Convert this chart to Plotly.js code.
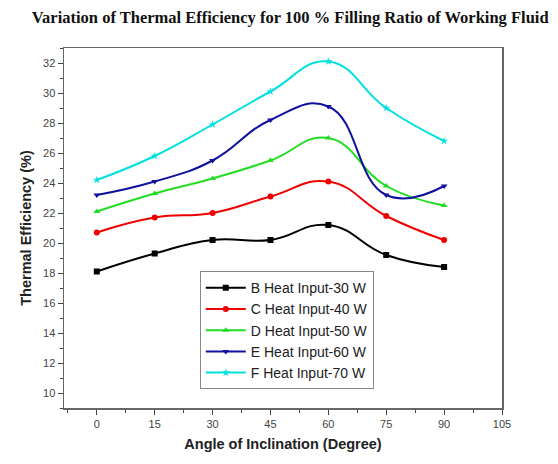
<!DOCTYPE html>
<html>
<head>
<meta charset="utf-8">
<script src="https://cdn.plot.ly/plotly-3.0.1.min.js"></script>
<style>body{margin:0;padding:0;background:#fff}#chart{width:558px;height:464px}</style>
</head>
<body>
<div id="chart"></div>
<script>
const angles = [0, 15, 30, 45, 60, 75, 90];
const seriesNames = ["B Heat Input-30 W", "C Heat Input-40 W", "D Heat Input-50 W", "E Heat Input-60 W", "F Heat Input-70 W"];
const heat30 = [18.1, 19.3, 20.2, 20.2, 21.2, 19.2, 18.4];
const heat40 = [20.7, 21.7, 22.0, 23.1, 24.1, 21.8, 20.2];
const heat50 = [22.1, 23.3, 24.3, 25.5, 27.0, 23.8, 22.5];
const heat60 = [23.2, 24.1, 25.5, 28.2, 29.1, 23.2, 23.8];
const heat70 = [24.2, 25.8, 27.9, 30.1, 32.1, 29.0, 26.8];
const xTicks = [0, 15, 30, 45, 60, 75, 90, 105];
const yTicks = [10, 12, 14, 16, 18, 20, 22, 24, 26, 28, 30, 32];

const values = [heat30, heat40, heat50, heat60, heat70];
const colors = ["#000000", "#ee0000", "#22dd22", "#1010a0", "#00e0e0"];
const symbols = ["square", "circle", "triangle-up", "triangle-down", "star"];

const traces = values.map((v, i) => ({
  x: angles, y: v, name: seriesNames[i], type: "scatter", mode: "lines+markers",
  line: {color: colors[i], width: 2, shape: "spline", smoothing: 1.3},
  marker: {color: colors[i], symbol: symbols[i], size: 6}
}));

const layout = {
  width: 558, height: 464,
  margin: {l: 64, r: 56, t: 48, b: 56},
  paper_bgcolor: "#fff", plot_bgcolor: "#fff",
  showlegend: true,
  title: {text: "Variation of Thermal Efficiency for 100 % Filling Ratio of Working Fluid",
    font: {family: "Liberation Serif", size: 16.5, color: "#111", weight: "bold"},
    x: 0.52, xref: "container", y: 0.962, yref: "container", xanchor: "center", yanchor: "middle"},
  legend: {x: 0.31, y: 0.38, xanchor: "left", yanchor: "top",
    bordercolor: "#888", borderwidth: 1, bgcolor: "#fff",
    font: {family: "Liberation Sans", size: 14, color: "#222"},
    tracegroupgap: 0, itemwidth: 40},
  xaxis: {range: [-8.5, 105], tickvals: xTicks, ticktext: xTicks.map(String),
    showgrid: false, zeroline: false, showline: true, linecolor: "#666", linewidth: 1.5, mirror: true,
    ticks: "outside", ticklen: 5, tickcolor: "#444", tickwidth: 1,
    minor: {dtick: 7.5, tick0: 0, ticks: "outside", ticklen: 3, tickcolor: "#444", showgrid: false},
    tickfont: {family: "Liberation Sans", size: 11, color: "#444"},
    title: {text: "Angle of Inclination (Degree)", font: {family: "Liberation Sans", size: 14.5, color: "#222", weight: "bold"}, standoff: 10}},
  yaxis: {range: [9, 33], tickvals: yTicks, ticktext: yTicks.map(String),
    showgrid: false, zeroline: false, showline: true, linecolor: "#666", linewidth: 1.5, mirror: true,
    ticks: "outside", ticklen: 5, tickcolor: "#444", tickwidth: 1,
    minor: {dtick: 1, tick0: 0, ticks: "outside", ticklen: 3, tickcolor: "#444", showgrid: false},
    tickfont: {family: "Liberation Sans", size: 11, color: "#444"},
    title: {text: "Thermal Efficiency (%)", font: {family: "Liberation Sans", size: 14.5, color: "#222", weight: "bold"}, standoff: 8}}
};

Plotly.newPlot("chart", traces, layout, {displayModeBar: false, staticPlot: true});
</script>
</body>
</html>
